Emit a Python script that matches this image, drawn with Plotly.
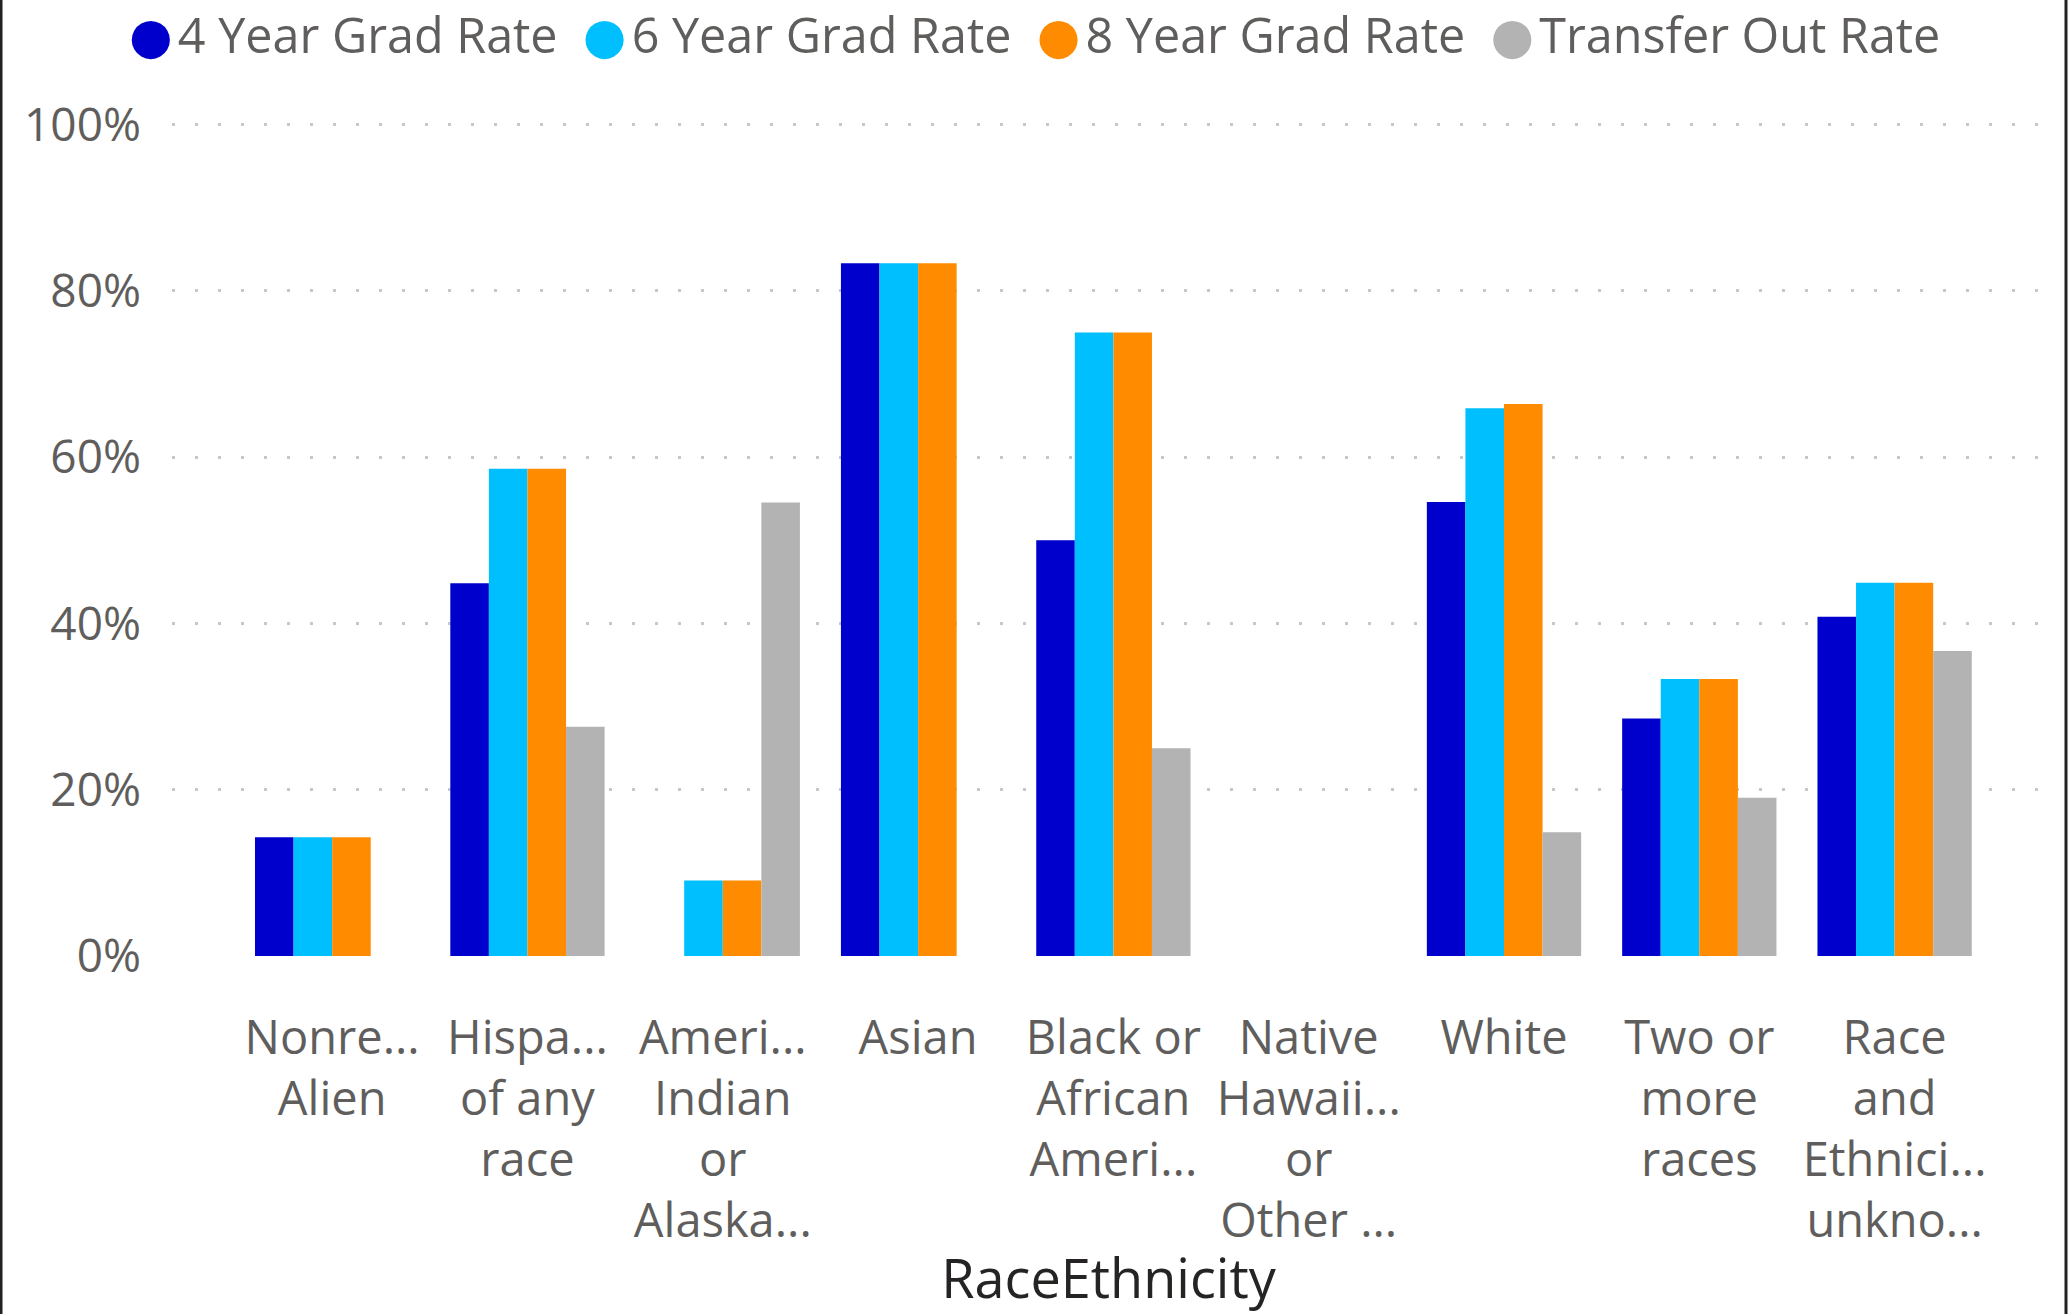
import plotly.graph_objects as go

categories = [
    "Nonre...<br>Alien",
    "Hispa...<br>of any<br>race",
    "Ameri...<br>Indian<br>or<br>Alaska...",
    "Asian",
    "Black or<br>African<br>Ameri...",
    "Native<br>Hawaii...<br>or<br>Other ...",
    "White",
    "Two or<br>more<br>races",
    "Race<br>and<br>Ethnici...<br>unkno...",
]

grad_4yr = [14.29, 44.83, None, 83.33, 50.0, None, 54.6, 28.57, 40.82]
grad_6yr = [14.29, 58.62, 9.09, 83.33, 75.0, None, 65.9, 33.33, 44.9]
grad_8yr = [14.29, 58.62, 9.09, 83.33, 75.0, None, 66.4, 33.33, 44.9]
transfer_out = [None, 27.59, 54.55, None, 25.0, None, 14.9, 19.05, 36.7]

y_ticks = [0, 20, 40, 60, 80, 100]
y_labels = ["0%", "20%", "40%", "60%", "80%", "100%"]

series = [
    ("4 Year Grad Rate", grad_4yr, "#0000CD"),
    ("6 Year Grad Rate", grad_6yr, "#00BFFF"),
    ("8 Year Grad Rate", grad_8yr, "#FF8C00"),
    ("Transfer Out Rate", transfer_out, "#B3B3B3"),
]

W, H = 2069, 1314
ML, MR, MT, MB = 172, 24, 123, 358

fig = go.Figure()
for name, vals, col in series:
    fig.add_trace(go.Bar(x=categories, y=vals, name=name,
                         marker=dict(color=col, line=dict(width=0)),
                         showlegend=False))

# legend drawn as one line of text with coloured dots
legend_txt = "  ".join(
    f"<span style='color:{col};font-size:50px;font-family:DejaVu Sans'>●</span>"
    f"<span style='font-size:20px'> </span>{name}"
    for name, _, col in series
)
pw = W - ML - MR
ph = H - MT - MB
fig.add_annotation(text=legend_txt, xref="paper", yref="paper",
                   x=(W / 2 - ML) / pw, y=(H - MB - 34) / ph,
                   xanchor="center", yanchor="middle", showarrow=False,
                   font=dict(size=48.5, color="#605E5C", family="Open Sans"))

# frame lines at the page edges
for px in (1, 2066):
    fig.add_shape(type="line", xref="paper", yref="paper",
                  x0=(px - ML) / pw, x1=(px - ML) / pw,
                  y0=-MB / ph, y1=(H - MB) / ph,
                  line=dict(color="#222222", width=3))

fig.update_layout(
    width=W, height=H,
    margin=dict(l=ML, r=MR, t=MT, b=MB),
    paper_bgcolor="white", plot_bgcolor="white",
    barmode="group", bargap=0.21, bargroupgap=0,
    font=dict(family="Open Sans", color="#605E5C", size=46),
    xaxis=dict(
        range=[-0.82, 8.77],
        showgrid=False, zeroline=False, showline=False,
        ticks="", ticklabelstandoff=50,
        tickfont=dict(size=47, color="#605E5C"),
        title=dict(text="RaceEthnicity", standoff=4,
                   font=dict(size=54, color="#252423")),
    ),
    yaxis=dict(
        range=[0, 100.2],
        tickvals=y_ticks, ticktext=y_labels,
        showgrid=True, gridcolor="#C8C8C8", gridwidth=3,
        griddash="3px,20px",
        zeroline=False, showline=False, ticks="",
        ticklabelstandoff=30,
        tickfont=dict(size=46, color="#605E5C"),
    ),
)

fig.write_html("out.html", config={"displayModeBar": False},
               post_script="document.body.style.margin='0';")
